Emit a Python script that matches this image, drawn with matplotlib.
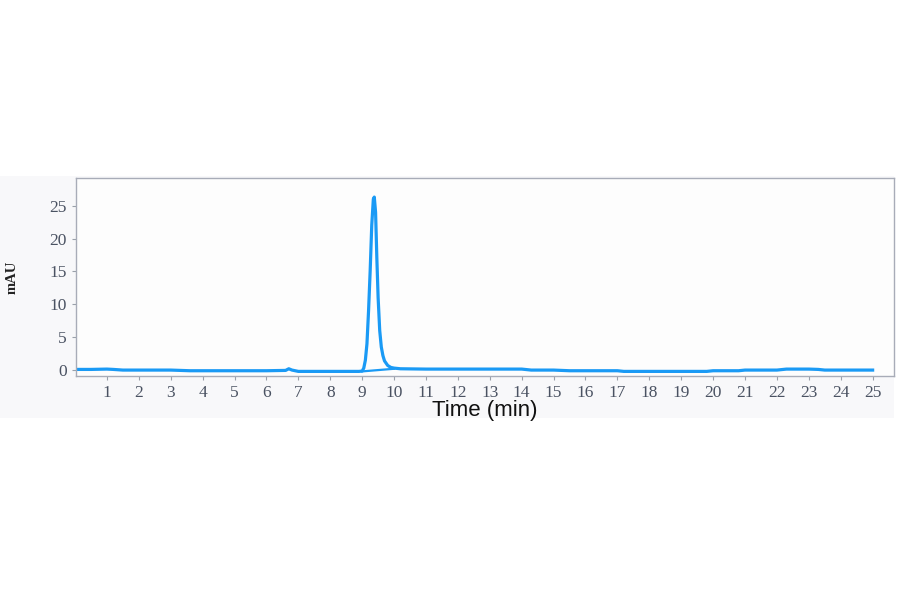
import matplotlib
matplotlib.use("Agg")
import matplotlib.pyplot as plt
from matplotlib.patches import Rectangle

# chromatogram trace (time in min, signal in mAU)
time = [0.05, 0.5, 1.0, 1.2, 1.5, 2.0, 3.0, 3.3, 3.6, 4.0, 5.0, 6.0, 6.6, 6.7, 6.8, 7.0,
        8.0, 8.9, 9.0, 9.05, 9.1, 9.15, 9.2, 9.25, 9.3, 9.35, 9.38, 9.42, 9.46, 9.5,
        9.55, 9.6, 9.65, 9.7, 9.8, 9.9, 10.0, 10.2, 11.0, 12.0, 13.0, 14.0, 14.3,
        15.0, 15.5, 16.0, 17.0, 17.2, 18.0, 19.0, 19.8, 20.0, 20.8, 21.0, 22.0,
        22.3, 23.0, 23.3, 23.5, 24.0, 25.0]
signal = [0.1, 0.1, 0.15, 0.1, 0.0, 0.0, 0.0, -0.05, -0.1, -0.1, -0.1, -0.1, -0.05, 0.2, 0.0, -0.2,
          -0.2, -0.2, -0.15, 0.3, 1.5, 4.0, 9.0, 15.0, 22.0, 26.0, 26.3, 24.0, 17.0, 11.0,
          6.0, 3.5, 2.2, 1.4, 0.7, 0.4, 0.3, 0.2, 0.15, 0.15, 0.15, 0.15, 0.0,
          0.0, -0.1, -0.1, -0.1, -0.2, -0.2, -0.2, -0.2, -0.1, -0.1, 0.0, 0.0,
          0.15, 0.15, 0.1, 0.0, 0.0, 0.0]

# integration baseline under the peak
base_t = [9.0, 10.0]
base_y = [-0.2, 0.2]

xticks = list(range(1, 26))
yticks = [0, 5, 10, 15, 20, 25]

blue = "#1a9af5"
tick_color = "#4a5262"

fig = plt.figure(figsize=(9, 5.94), dpi=100)
fig.patches.append(Rectangle((0, 0.296), 0.993, 0.408, transform=fig.transFigure,
                             facecolor="#f8f8fa", edgecolor="none", zorder=-1))

ax = fig.add_axes([76 / 900, 1 - 376 / 594, (894 - 76) / 900, (376 - 178) / 594])
ax.set_facecolor("#fdfdfd")

ax.plot(time, signal, color=blue, lw=2.3)
ax.plot(base_t, base_y, color=blue, lw=1.6)

ax.set_xlim(0.03, 25.67)
ax.set_ylim(-0.9, 29.2)
ax.set_xticks(xticks)
ax.set_yticks(yticks)

for s in ax.spines.values():
    s.set_color("#a8acb8")
    s.set_linewidth(1.0)

ax.tick_params(axis="both", colors="#9aa0aa", length=3, width=0.8,
               labelcolor=tick_color, labelsize=12.5)
for lab in ax.get_xticklabels() + ax.get_yticklabels():
    lab.set_family("Liberation Serif")

ax.set_xlabel("Time (min)", fontsize=16, family="Liberation Sans", labelpad=-1, color="#111111")
ax.text(-0.078, 0.5, "mAU", transform=ax.transAxes, rotation=90, ha="center", va="center",
        fontsize=10.5, fontweight="bold", family="Liberation Serif", color="#222222")

fig.savefig("out.png", dpi=100)
